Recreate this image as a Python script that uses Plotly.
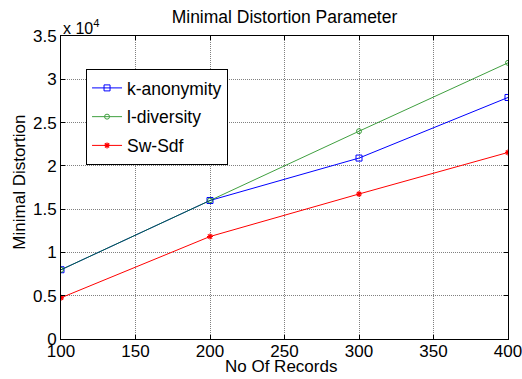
import plotly.graph_objects as go

records = [100, 200, 300, 400]
k_anonymity = [8000, 16000, 20900, 27900]
l_diversity = [8000, 16000, 24000, 31900]
sw_sdf = [4760, 11840, 16750, 21550]

y_tickvals = [0, 5000, 10000, 15000, 20000, 25000, 30000, 35000]
y_ticktext = ["0", "0.5", "1", "1.5", "2", "2.5", "3", "3.5"]
x_tickvals = [100, 150, 200, 250, 300, 350, 400]

FONT = "Liberation Sans, Arial, sans-serif"

fig = go.Figure()
fig.add_trace(go.Scatter(x=records, y=k_anonymity, name="k-anonymity", mode="lines+markers",
                         legendgroup="a",
                         line=dict(color="#0000ff", width=1),
                         marker=dict(symbol="square-open", size=6, color="#0000ff", line=dict(width=1))))
fig.add_trace(go.Scatter(x=records, y=l_diversity, name="l-diversity", mode="lines+markers",
                         legendgroup="b", opacity=0.75,
                         line=dict(color="#008000", width=1),
                         marker=dict(symbol="circle-open", size=5, color="#008000", line=dict(width=1))))
fig.add_trace(go.Scatter(x=records, y=sw_sdf, name="Sw-Sdf", mode="lines+markers",
                         legendgroup="c",
                         line=dict(color="#ff0000", width=1),
                         marker=dict(symbol="asterisk-open", size=5, color="#ff0000", line=dict(width=1.2, color="#ff0000"))))

fig.update_layout(
    width=522, height=379,
    margin=dict(l=61, r=14, t=36, b=40),
    paper_bgcolor="white", plot_bgcolor="white",
    font=dict(family=FONT, size=17, color="black"),
    title=dict(text="Minimal Distortion Parameter", x=0.545, xanchor="center", y=0.955, yanchor="middle",
               font=dict(size=17.5, family=FONT, color="black")),
    xaxis=dict(range=[100, 400], tickvals=x_tickvals, ticks="inside", ticklen=4, tickcolor="black",
               showline=True, linecolor="black", linewidth=1, mirror="ticks", automargin=False,
               ticklabeloverflow="allow", ticklabelstandoff=-3,
               showgrid=True, gridcolor="#808080", griddash="1px,1px", gridwidth=1, zeroline=False,
               tickfont=dict(size=17)),
    yaxis=dict(range=[0, 35000], tickvals=y_tickvals, ticktext=y_ticktext, ticks="inside", ticklen=4,
               tickcolor="black", showline=True, linecolor="black", linewidth=1, mirror="ticks",
               automargin=False, ticklabeloverflow="allow",
               showgrid=True, gridcolor="#808080", griddash="1px,1px", gridwidth=1, zeroline=False,
               tickfont=dict(size=17)),
    legend=dict(x=0.056, y=0.891, xanchor="left", yanchor="top", bgcolor="white",
                bordercolor="black", borderwidth=1, font=dict(size=17.5), tracegroupgap=3,
                itemwidth=30),
    showlegend=True,
)
fig.add_annotation(text="No Of Records", xref="paper", yref="paper",
                   x=0.492, y=0, xanchor="center", yanchor="middle", yshift=-27,
                   showarrow=False, font=dict(size=17))
fig.add_annotation(text="Minimal Distortion", textangle=-90, xref="paper", yref="paper",
                   x=0, y=0.516, xanchor="center", yanchor="middle", xshift=-41,
                   showarrow=False, font=dict(size=17))
fig.add_annotation(text="x 10<sup>4</sup>", xref="paper", yref="paper", x=0.0, y=1.0,
                   xanchor="left", yanchor="bottom", showarrow=False, font=dict(size=16), yshift=-3)

fig.write_html("out.html")
